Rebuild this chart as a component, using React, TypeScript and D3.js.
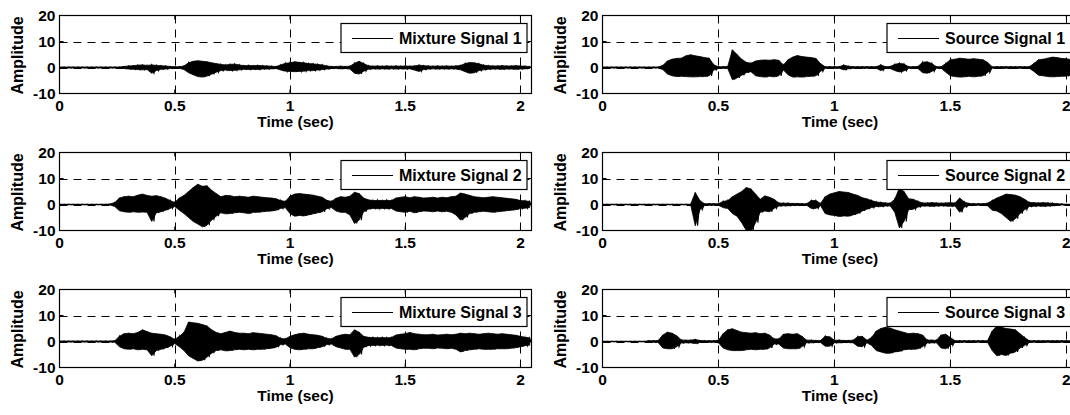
import React from "react";
import * as d3 from "d3";

// Signals are stored as per-bin max/min envelopes (one bin every 20 ms).
const SAMPLE_STEP = 0.02;
const TIME_MAX = 2.048;
const AMP_DOMAIN: [number, number] = [-10, 20];
const X_TICKS = [0, 0.5, 1, 1.5, 2];
const Y_TICKS = [-10, 0, 10, 20];
const X_GRID = [0.5, 1, 1.5, 2];
const Y_GRID = [0, 10];
const X_LABEL = "Time (sec)";
const Y_LABEL = "Amplitude";

const mixture1Hi = [
  0.2, 0.2, 0.2, 0.2, 0.2, 0.2, 0.2, 0.2, 0.2, 0.2,
  0.2, 0.2, 0.2, 0.2, 0.4, 0.6, 0.7, 0.9, 1.0, 0.8,
  1.0, 0.8, 0.7, 0.6, 0.4, 0.3, 0.3, 0.6, 1.8, 2.4,
  2.6, 2.4, 2.2, 1.8, 1.5, 1.2, 1.0, 1.2, 1.3, 1.0,
  0.7, 0.8, 0.7, 0.8, 0.7, 0.6, 0.5, 0.4, 1.0, 1.6,
  1.8, 2.2, 2.0, 1.8, 1.5, 1.4, 1.2, 1.0, 0.6, 0.4,
  0.4, 0.5, 0.4, 0.5, 1.6, 2.4, 1.5, 0.7, 0.5, 0.6,
  0.5, 0.6, 0.5, 0.6, 0.5, 0.6, 0.5, 0.6, 0.9, 0.7,
  0.6, 0.5, 0.6, 0.5, 0.6, 0.5, 0.6, 0.8, 1.5, 1.9,
  1.8, 1.4, 0.9, 0.7, 0.6, 0.6, 0.7, 0.6, 0.6, 0.7,
  0.6, 0.5, 0.4,
];
const mixture1Lo = [
  -0.2, -0.2, -0.2, -0.2, -0.2, -0.2, -0.2, -0.2, -0.2, -0.2,
  -0.2, -0.2, -0.2, -0.2, -0.4, -0.6, -0.7, -0.8, -0.9, -0.8,
  -2.2, -1.2, -0.7, -0.6, -0.4, -0.3, -0.3, -0.8, -2.0, -2.8,
  -3.5, -3.7, -3.3, -2.6, -1.8, -1.2, -1.0, -1.2, -1.1, -0.9,
  -0.7, -0.8, -0.7, -0.8, -0.6, -0.6, -0.5, -0.4, -1.0, -1.4,
  -1.5, -1.6, -1.5, -1.4, -1.2, -1.2, -1.0, -0.8, -0.6, -0.4,
  -0.4, -0.5, -0.4, -0.6, -2.2, -2.5, -1.4, -0.7, -0.5, -0.6,
  -0.5, -0.6, -0.5, -0.6, -0.5, -0.6, -0.5, -1.0, -1.5, -0.8,
  -0.6, -0.5, -0.6, -0.5, -0.6, -0.5, -0.6, -0.9, -1.6, -2.2,
  -2.0, -1.2, -0.9, -0.7, -0.6, -0.6, -0.7, -0.6, -0.6, -0.7,
  -0.6, -0.5, -0.4,
];

const mixture2Hi = [
  0.1, 0.1, 0.1, 0.1, 0.1, 0.1, 0.1, 0.1, 0.1, 0.1,
  0.1, 0.2, 0.8, 2.5, 3.0, 3.2, 3.0, 3.6, 4.0, 3.5,
  3.2, 3.4, 3.0, 2.4, 1.5, 0.8, 2.5, 3.5, 5.0, 6.5,
  7.8, 7.0, 7.2, 5.5, 4.2, 3.0, 3.5, 3.4, 3.0, 3.2,
  3.0, 2.8, 3.2, 3.0, 2.8, 2.6, 2.5, 2.2, 1.5, 1.2,
  3.2, 4.0, 4.2, 4.0, 3.8, 3.6, 3.2, 2.8, 1.6, 1.2,
  2.4, 3.0, 2.8, 3.2, 4.7, 4.2, 2.5, 1.8, 1.5, 1.6,
  1.5, 1.6, 1.5, 2.5, 2.8, 3.0, 2.6, 3.0, 2.8, 2.5,
  2.6, 2.8, 2.5, 2.8, 2.6, 3.0, 3.2, 4.4, 4.0, 3.5,
  3.0, 2.8, 2.6, 2.8, 3.0, 2.8, 2.6, 2.4, 2.2, 2.0,
  1.5, 1.4, 1.2,
];
const mixture2Lo = [
  -0.1, -0.1, -0.1, -0.1, -0.1, -0.1, -0.1, -0.1, -0.1, -0.1,
  -0.1, -0.2, -0.8, -2.4, -2.8, -3.0, -2.8, -3.0, -2.9, -3.0,
  -6.5, -3.2, -2.8, -2.2, -1.5, -0.8, -2.2, -3.5, -5.0, -6.5,
  -7.5, -8.6, -8.0, -6.0, -4.5, -3.2, -3.6, -3.5, -3.2, -3.0,
  -3.2, -3.5, -3.0, -3.0, -2.8, -2.6, -2.5, -2.2, -1.5, -1.2,
  -3.5, -4.5, -4.2, -4.4, -4.0, -3.6, -3.2, -2.8, -1.6, -1.2,
  -2.5, -3.0, -3.0, -4.0, -7.3, -6.0, -2.8, -1.8, -1.5, -1.6,
  -1.5, -1.6, -1.5, -2.5, -2.8, -3.0, -2.6, -3.2, -2.8, -2.5,
  -2.6, -2.8, -2.5, -2.8, -2.6, -3.0, -4.0, -6.0, -5.0, -3.5,
  -3.0, -2.8, -2.6, -2.8, -3.0, -2.8, -2.6, -2.4, -2.2, -2.0,
  -1.5, -1.4, -1.2,
];

const mixture3Hi = [
  0.2, 0.2, 0.2, 0.2, 0.2, 0.2, 0.2, 0.2, 0.2, 0.2,
  0.2, 0.2, 0.3, 2.0, 3.0, 3.2, 3.0, 3.5, 4.5, 3.8,
  3.2, 3.0, 2.8, 2.5, 1.8, 0.8, 2.0, 3.5, 7.5, 7.2,
  7.0, 6.5, 6.0, 4.5, 3.5, 3.0, 3.5, 4.0, 3.5, 3.2,
  3.2, 3.0, 3.4, 3.2, 3.0, 2.8, 2.6, 2.2, 1.2, 1.0,
  2.0, 2.6, 3.0, 3.2, 2.8, 2.6, 2.4, 2.0, 1.2, 1.0,
  2.0, 2.5, 2.8, 2.6, 4.5, 3.6, 2.0, 1.6, 1.5, 1.4,
  1.5, 1.4, 1.5, 2.5, 2.8, 3.0, 3.5, 3.0, 2.8, 2.6,
  2.6, 2.8, 2.5, 2.6, 2.8, 2.6, 2.8, 3.2, 3.0, 3.2,
  3.0, 2.8, 3.0, 3.2, 3.0, 2.8, 3.0, 2.8, 2.6, 2.4,
  2.0, 1.6, 1.4,
];
const mixture3Lo = [
  -0.2, -0.2, -0.2, -0.2, -0.2, -0.2, -0.2, -0.2, -0.2, -0.2,
  -0.2, -0.2, -0.3, -2.0, -2.8, -3.0, -2.8, -3.2, -3.0, -3.2,
  -5.5, -3.5, -3.0, -2.5, -1.8, -0.8, -2.0, -3.5, -5.5, -6.5,
  -7.5, -7.2, -6.0, -4.5, -3.5, -3.2, -3.6, -3.5, -3.2, -3.0,
  -3.2, -3.0, -3.2, -3.0, -3.0, -2.8, -2.6, -2.2, -1.2, -1.0,
  -2.4, -3.0, -3.2, -3.0, -2.8, -2.8, -2.4, -2.0, -1.2, -1.0,
  -2.0, -2.5, -3.0, -3.0, -6.0, -5.0, -2.2, -1.6, -1.5, -1.4,
  -1.5, -1.4, -1.5, -2.5, -2.8, -3.0, -3.0, -3.2, -2.8, -2.6,
  -2.6, -2.8, -2.5, -2.6, -2.8, -2.6, -3.0, -4.0, -3.5, -3.2,
  -3.0, -2.8, -3.0, -3.0, -3.0, -2.8, -2.8, -2.8, -2.6, -2.4,
  -2.0, -1.6, -1.4,
];

const source1Hi = [
  0.2, 0.2, 0.2, 0.2, 0.2, 0.2, 0.2, 0.2, 0.2, 0.2,
  0.2, 0.2, 0.2, 0.8, 2.5, 3.2, 3.5, 3.6, 4.5, 4.9,
  4.5, 4.2, 3.8, 3.6, 1.0, 0.3, 0.3, 0.4, 6.8, 5.0,
  3.2, 2.0, 1.6, 2.5, 2.8, 2.9, 2.8, 3.0, 2.8, 1.0,
  3.0, 4.0, 4.6, 4.2, 4.0, 3.8, 3.5, 1.5, 0.3, 0.3,
  0.3, 0.3, 0.9, 0.5, 0.3, 0.3, 0.3, 0.3, 0.3, 0.3,
  1.0, 0.3, 0.4, 1.2, 1.6, 1.3, 0.3, 0.3, 0.4, 2.0,
  2.2, 1.5, 0.3, 0.3, 1.5, 3.0, 3.2, 3.6, 3.4, 3.2,
  3.4, 3.2, 3.0, 2.0, 0.3, 0.3, 0.3, 0.3, 0.3, 0.3,
  0.3, 0.3, 0.3, 1.5, 3.0, 3.2, 3.6, 4.0, 3.8, 3.5,
  3.4, 3.0, 2.6,
];
const source1Lo = [
  -0.2, -0.2, -0.2, -0.2, -0.2, -0.2, -0.2, -0.2, -0.2, -0.2,
  -0.2, -0.2, -0.2, -0.8, -2.5, -3.2, -3.5, -3.4, -3.5, -3.6,
  -3.6, -3.5, -3.5, -3.2, -1.0, -0.3, -0.3, -0.4, -4.7, -4.0,
  -3.0, -2.0, -1.6, -3.2, -3.5, -3.7, -3.4, -3.6, -3.2, -1.0,
  -2.8, -3.7, -3.6, -3.7, -3.5, -3.4, -3.2, -1.5, -0.3, -0.3,
  -0.3, -0.3, -0.9, -0.5, -0.3, -0.3, -0.3, -0.3, -0.3, -0.3,
  -1.2, -0.3, -0.4, -1.2, -1.7, -1.3, -0.3, -0.3, -0.4, -2.0,
  -2.2, -1.5, -0.3, -0.3, -1.8, -3.2, -3.5, -3.7, -3.6, -3.4,
  -3.6, -3.4, -3.2, -2.0, -0.3, -0.3, -0.3, -0.3, -0.3, -0.3,
  -0.3, -0.3, -0.3, -1.5, -3.0, -3.2, -3.5, -3.6, -3.5, -3.4,
  -3.3, -3.0, -2.5,
];

const source2Hi = [
  0.1, 0.1, 0.1, 0.1, 0.1, 0.1, 0.1, 0.1, 0.1, 0.1,
  0.1, 0.1, 0.1, 0.1, 0.1, 0.1, 0.1, 0.1, 0.1, 0.1,
  4.6, 1.5, 0.3, 0.3, 0.3, 0.3, 1.2, 1.5, 3.0, 4.0,
  5.0, 6.5, 6.0, 4.0, 2.0, 3.3, 2.8, 2.0, 0.6, 0.5,
  0.5, 0.4, 0.4, 0.3, 0.3, 1.5, 1.5, 0.4, 3.0, 4.0,
  4.5, 5.0, 4.8, 4.6, 4.0, 3.5, 2.6, 2.2, 1.5, 1.0,
  0.8, 0.6, 0.5, 2.0, 6.3, 5.0, 2.2, 2.0, 1.2, 0.6,
  0.6, 0.7, 0.6, 0.5, 0.6, 0.7, 0.6, 2.5, 1.0, 0.4,
  0.3, 0.3, 0.3, 0.5, 1.5, 2.5, 3.2, 4.0, 3.8, 3.6,
  3.0, 2.0, 0.8, 0.7, 0.6, 0.7, 0.6, 0.5, 0.3, 0.2,
  0.1, 0.1, 0.1,
];
const source2Lo = [
  -0.1, -0.1, -0.1, -0.1, -0.1, -0.1, -0.1, -0.1, -0.1, -0.1,
  -0.1, -0.1, -0.1, -0.1, -0.1, -0.1, -0.1, -0.1, -0.1, -0.1,
  -8.2, -2.0, -0.3, -0.3, -0.3, -0.3, -1.2, -1.5, -3.5, -4.5,
  -7.0, -10.0, -10.4, -7.0, -3.0, -2.5, -2.8, -1.5, -0.6, -0.5,
  -0.5, -0.4, -0.4, -0.3, -0.3, -1.5, -1.5, -0.4, -3.5, -4.0,
  -4.2, -4.6, -4.4, -4.5, -4.0, -3.5, -2.5, -1.8, -1.2, -0.8,
  -0.8, -0.6, -0.5, -3.0, -9.0, -6.5, -2.0, -1.8, -1.0, -0.6,
  -0.6, -0.7, -0.6, -0.5, -0.6, -0.7, -0.6, -3.0, -1.0, -0.4,
  -0.3, -0.3, -0.3, -0.5, -2.2, -2.5, -3.5, -5.0, -6.5, -5.5,
  -3.5, -2.0, -0.8, -0.7, -0.6, -0.7, -0.6, -0.5, -0.3, -0.2,
  -0.1, -0.1, -0.1,
];

const source3Hi = [
  0.1, 0.1, 0.1, 0.1, 0.1, 0.1, 0.1, 0.1, 0.1, 0.1,
  0.3, 0.3, 0.4, 2.5, 3.6, 3.2, 2.2, 0.6, 0.5, 0.5,
  0.8, 0.4, 0.3, 0.3, 0.3, 0.5, 3.0, 4.5, 4.9, 4.2,
  3.6, 3.4, 3.2, 3.4, 3.0, 3.2, 2.5, 1.0, 1.0, 2.8,
  3.0, 2.8, 3.0, 2.0, 0.5, 0.5, 0.4, 0.4, 2.0, 1.8,
  0.5, 0.5, 0.4, 0.4, 0.5, 1.8, 2.0, 0.5, 1.5, 4.0,
  5.0, 5.5, 5.2, 4.5, 4.0, 3.5, 3.0, 3.2, 3.0, 2.5,
  0.6, 0.5, 0.5, 2.5, 2.8, 1.5, 0.3, 0.3, 0.3, 0.3,
  0.3, 0.3, 0.3, 0.3, 4.0, 6.0, 5.5, 5.0, 4.8, 4.5,
  3.0, 1.5, 0.3, 0.3, 0.3, 0.3, 0.3, 0.3, 0.3, 0.3,
  0.3, 0.3, 0.3,
];
const source3Lo = [
  -0.1, -0.1, -0.1, -0.1, -0.1, -0.1, -0.1, -0.1, -0.1, -0.1,
  -0.3, -0.3, -0.4, -2.5, -2.8, -2.8, -2.0, -0.6, -0.5, -0.5,
  -0.8, -0.4, -0.3, -0.3, -0.3, -0.5, -2.5, -3.2, -3.5, -3.5,
  -3.5, -3.2, -3.0, -3.2, -3.0, -3.0, -2.5, -1.0, -1.0, -2.5,
  -2.8, -2.8, -2.8, -2.0, -0.5, -0.5, -0.4, -0.4, -1.8, -1.8,
  -0.5, -0.5, -0.4, -0.4, -0.5, -1.8, -2.0, -0.5, -1.5, -3.5,
  -4.0, -4.5, -4.5, -4.0, -3.8, -3.2, -3.0, -3.0, -2.8, -2.0,
  -0.6, -0.5, -0.5, -2.5, -2.8, -1.5, -0.3, -0.3, -0.3, -0.3,
  -0.3, -0.3, -0.3, -0.3, -3.5, -5.5, -5.0, -5.4, -4.5, -4.0,
  -2.5, -1.5, -0.3, -0.3, -0.3, -0.3, -0.3, -0.3, -0.3, -0.3,
  -0.3, -0.3, -0.3,
];

type PanelSpec = { name: string; hi: number[]; lo: number[]; col: number; row: number };

const PANELS: PanelSpec[] = [
  { name: "Mixture Signal 1", hi: mixture1Hi, lo: mixture1Lo, col: 0, row: 0 },
  { name: "Mixture Signal 2", hi: mixture2Hi, lo: mixture2Lo, col: 0, row: 1 },
  { name: "Mixture Signal 3", hi: mixture3Hi, lo: mixture3Lo, col: 0, row: 2 },
  { name: "Source Signal 1", hi: source1Hi, lo: source1Lo, col: 1, row: 0 },
  { name: "Source Signal 2", hi: source2Hi, lo: source2Lo, col: 1, row: 1 },
  { name: "Source Signal 3", hi: source3Hi, lo: source3Lo, col: 1, row: 2 },
];

const COLS = [
  { left: 59.5, right: 531.5 },
  { left: 602.5, right: 1077.5 },
];
const ROW_TOPS = [15.5, 152.5, 289.5];
const PANEL_H = 78;

const FONT = "'Liberation Sans', Arial, Helvetica, sans-serif";
const FS_TICK = 15.5;
const FS_LABEL = 16;

type Pt = { t: number; hi: number; lo: number };

function Panel({ spec, idx }: { spec: PanelSpec; idx: number }) {
  const { left, right } = COLS[spec.col];
  const top = ROW_TOPS[spec.row];
  const bottom = top + PANEL_H;
  const x = d3.scaleLinear().domain([0, TIME_MAX]).range([left, right]);
  const y = d3.scaleLinear().domain(AMP_DOMAIN).range([bottom, top]);

  const bins: Pt[] = spec.hi.map((h, i) => ({ t: i * SAMPLE_STEP, hi: h, lo: spec.lo[i] }));

  // filled min/max envelope
  const envelope = d3
    .area<Pt>()
    .x((d) => x(d.t))
    .y0((d) => y(d.lo))
    .y1((d) => y(d.hi))(bins) as string;

  // alternating max/min trace gives the spiky outline
  const pts: [number, number][] = [];
  bins.forEach((b) => {
    pts.push([b.t, b.hi]);
    pts.push([b.t + SAMPLE_STEP / 2, b.lo]);
  });
  const trace = d3
    .line<[number, number]>()
    .x((d) => x(d[0]))
    .y((d) => y(d[1]))(pts) as string;

  const clipId = `clip-${idx}`;
  const legW = 186;
  const legH = 29;
  const legX = right - 4.5 - legW;
  const legY = top + 8;
  const legMid = legY + legH / 2;
  const tickLen = 4;

  return (
    <g>
      <defs>
        <clipPath id={clipId}>
          <rect x={left} y={top} width={right - left} height={bottom - top} />
        </clipPath>
      </defs>
      <rect x={left} y={top} width={right - left} height={bottom - top} fill="#fff" />
      {X_GRID.map((v) => (
        <line key={`gx${v}`} x1={Math.round(x(v)) + 0.5} x2={Math.round(x(v)) + 0.5} y1={top} y2={bottom}
          stroke="#000" strokeWidth={1} strokeDasharray="8,6" />
      ))}
      {Y_GRID.map((v) => (
        <line key={`gy${v}`} x1={left} x2={right} y1={Math.round(y(v)) + 0.5} y2={Math.round(y(v)) + 0.5}
          stroke="#000" strokeWidth={1} strokeDasharray="8,6" />
      ))}
      <g clipPath={`url(#${clipId})`}>
        <path d={envelope} fill="#000" stroke="#000" strokeWidth={0.8} />
        <path d={trace} fill="none" stroke="#000" strokeWidth={1.1} strokeLinejoin="miter" />
      </g>
      {X_TICKS.map((v) => (
        <g key={`tx${v}`}>
          <line x1={x(v)} x2={x(v)} y1={bottom} y2={bottom - tickLen} stroke="#000" />
          <line x1={x(v)} x2={x(v)} y1={top} y2={top + tickLen} stroke="#000" />
          <text x={x(v)} y={bottom + 17.5} textAnchor="middle" fontFamily={FONT} fontWeight="bold" fontSize={FS_TICK}>
            {v}
          </text>
        </g>
      ))}
      {Y_TICKS.map((v) => (
        <g key={`ty${v}`}>
          <line x1={left} x2={left + tickLen} y1={y(v)} y2={y(v)} stroke="#000" />
          <line x1={right} x2={right - tickLen} y1={y(v)} y2={y(v)} stroke="#000" />
          <text x={left - 4} y={y(v) + 5.5} textAnchor="end" fontFamily={FONT} fontWeight="bold" fontSize={FS_TICK}>
            {v}
          </text>
        </g>
      ))}
      <rect x={left} y={top} width={right - left} height={bottom - top} fill="none" stroke="#000" strokeWidth={1.2} />
      <rect x={legX} y={legY} width={legW} height={legH} fill="#fff" stroke="#000" strokeWidth={1.2} />
      <line x1={legX + 11} x2={legX + 52} y1={Math.round(legMid) + 0.5} y2={Math.round(legMid) + 0.5} stroke="#000" strokeWidth={1} />
      <text x={legX + 58} y={legMid + 5.5} fontFamily={FONT} fontWeight="bold" fontSize={FS_LABEL}>
        {spec.name}
      </text>
      <text x={(left + right) / 2} y={bottom + 33.5} textAnchor="middle" fontFamily={FONT} fontWeight="bold" fontSize={FS_TICK}>
        {X_LABEL}
      </text>
      <text
        transform={`translate(${left - 37},${(top + bottom) / 2 + 1}) rotate(-90)`}
        textAnchor="middle"
        fontFamily={FONT}
        fontWeight="bold"
        fontSize={FS_LABEL}
      >
        {Y_LABEL}
      </text>
    </g>
  );
}

export default function App() {
  return (
    <svg
      width={1070}
      height={415}
      viewBox="0 0 1070 415"
      style={{ position: "absolute", left: 0, top: 0, background: "#fff" }}
    >
      <rect x={0} y={0} width={1070} height={415} fill="#fff" />
      {PANELS.map((p, i) => (
        <Panel key={p.name} spec={p} idx={i} />
      ))}
    </svg>
  );
}
